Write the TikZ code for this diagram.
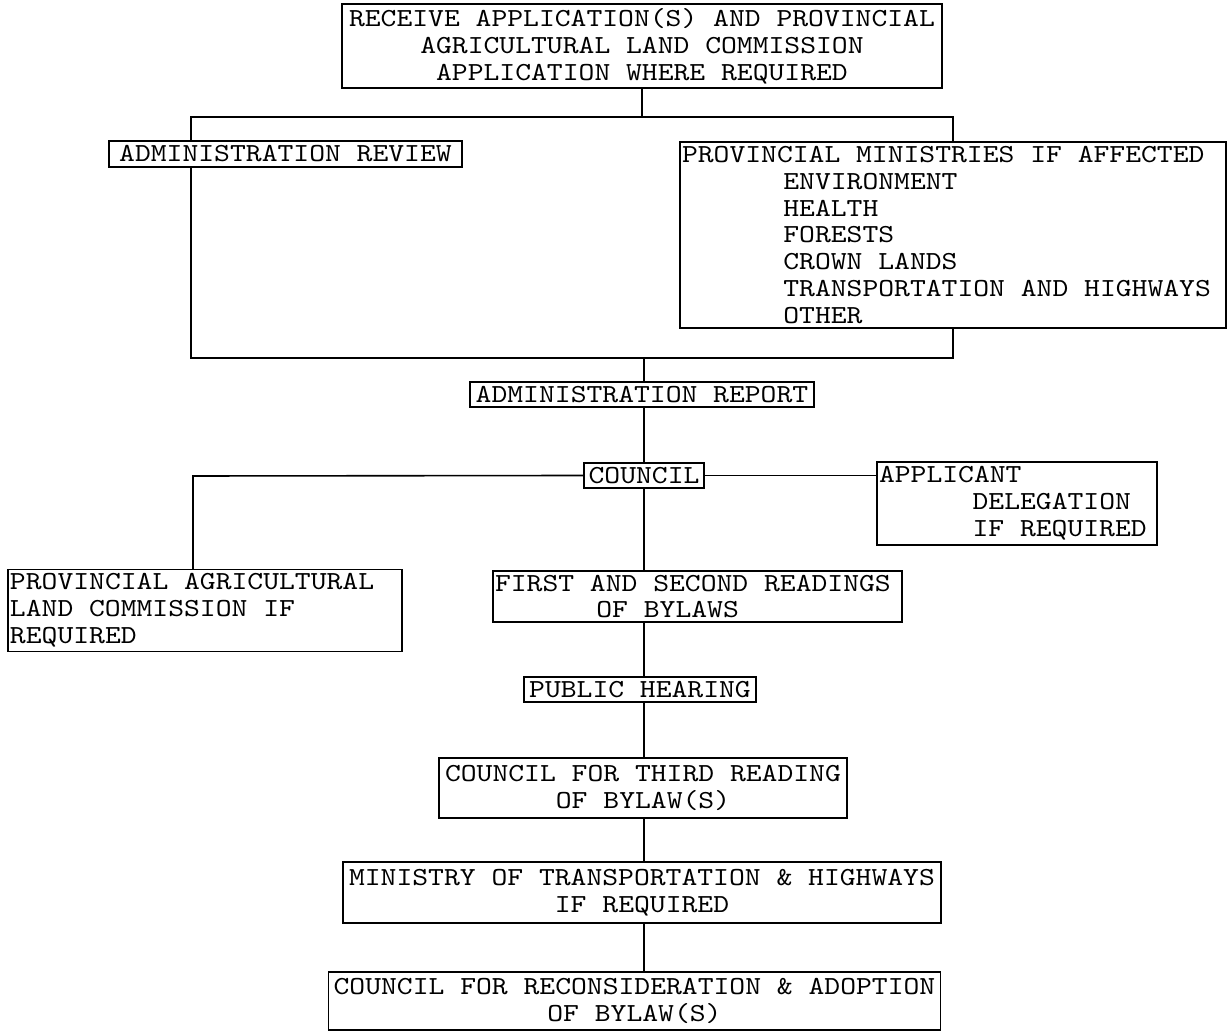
\documentclass[tikz,border=0pt]{standalone}
\usepackage{fontspec}
\setmonofont{lmmono10-regular.otf}[FakeStretch=1.16]
\newcommand{\tsp}{\spaceskip=\fontcharwd\font`A\relax\xspaceskip=\spaceskip}
\newcommand{\typew}{\ttfamily\fontsize{13}{13.45}\selectfont\tsp}
\begin{document}
\begin{tikzpicture}[x=0.5pt,y=-0.5pt,
    box/.style={draw,thick,fill=white,inner xsep=1pt,inner ysep=2pt,font=\typew},
    every path/.style={thick}]
            \useasboundingbox (0,0) rectangle (1227,1031);
            % boxes
            \node[box,minimum width=300pt,minimum height=41pt,align=center] (recv) at (642,46) {RECEIVE APPLICATION(S) AND PROVINCIAL\\AGRICULTURAL LAND COMMISSION\\APPLICATION WHERE REQUIRED};
            \node[box,minimum width=176.5pt,minimum height=13pt,align=center] (review) at (285.5,154) {ADMINISTRATION REVIEW};
            \node[box,text width=271pt,minimum height=92pt,align=left] (minis) at (953,235) {\tsp PROVINCIAL MINISTRIES IF AFFECTED\\\hspace*{3.9em}ENVIRONMENT\\\hspace*{3.9em}HEALTH\\\hspace*{3.9em}FORESTS\\\hspace*{3.9em}CROWN LANDS\\\hspace*{3.9em}TRANSPORTATION AND HIGHWAYS\\\hspace*{3.9em}OTHER};
            \node[box,minimum width=172pt,minimum height=11.5pt,align=center] (report) at (642,394.5) {ADMINISTRATION REPORT};
            \node[box,minimum width=60pt,minimum height=11.5pt,align=center] (council) at (644,475.5) {COUNCIL};
            \node[box,text width=138pt,minimum height=41.5pt,align=left] (applicant) at (1017,503.5) {\tsp APPLICANT\\\hspace*{3.6em}DELEGATION\\\hspace*{3.6em}IF REQUIRED};
            \node[box,text width=195pt,minimum height=40.5pt,align=left] (palc) at (205,610.5) {\tsp PROVINCIAL AGRICULTURAL\\LAND COMMISSION IF\\REQUIRED};
            \node[box,text width=202.5pt,minimum height=25.5pt,align=left] (first) at (697.5,596.5) {\tsp FIRST AND SECOND READINGS\\\hspace*{3.9em}OF BYLAWS};
            \node[box,minimum width=116pt,minimum height=12.5pt,align=center] (hearing) at (640,689.5) {PUBLIC HEARING};
            \node[box,minimum width=204pt,minimum height=30pt,align=center] (third) at (643,788) {COUNCIL FOR THIRD READING\\OF BYLAW(S)};
            \node[box,minimum width=299pt,minimum height=30.5pt,align=center] (mth) at (642,892.5) {MINISTRY OF TRANSPORTATION \& HIGHWAYS\\IF REQUIRED};
            \node[box,minimum width=306pt,minimum height=29pt,align=center] (recon) at (634.5,1001) {COUNCIL FOR RECONSIDERATION \& ADOPTION\\OF BYLAW(S)};
            % junctions
            \coordinate (tl) at (191,117);
            \coordinate (tr) at (953,117);
            \coordinate (bl) at (191,358);
            \coordinate (br) at (953,358);
            \coordinate (cl) at (193,476);
            % connectors
            \draw (recv.south) -- (recv.south |- tl);
            \draw (review.north -| tl) -- (tl) -- (tr) -- (minis.north -| tr);
            \draw (review.south -| bl) -- (bl) -- (br) -- (minis.south -| br);
            \draw (report.north -| council) -- (council |- bl);
            \draw (report.south -| council) -- (council.north);
            \draw (council.west) -- (cl) -- (palc.north -| cl);
            \draw (council.east) -- (council.east -| applicant.west);
            \draw (council.south) -- (council.south |- first.north);
            \draw (first.south -| council) -- (hearing.north -| council);
            \draw (hearing.south -| council) -- (third.north -| council);
            \draw (third.south -| council) -- (mth.north -| council);
            \draw (mth.south -| council) -- (recon.north -| council);
        \end{tikzpicture}
\end{document}
